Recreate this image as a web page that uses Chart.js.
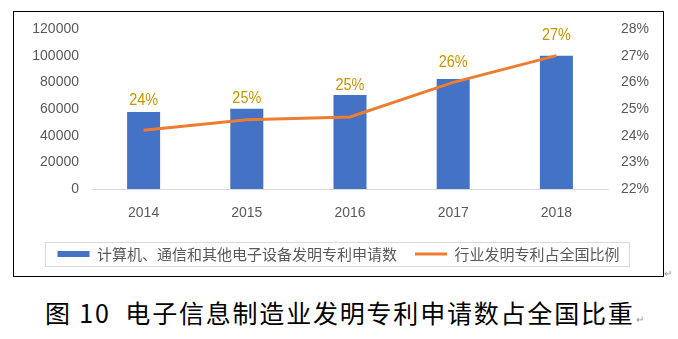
<!DOCTYPE html>
<html lang="zh">
<head>
<meta charset="UTF-8" />
<title>电子信息制造业发明专利申请数占全国比重</title>
<script src="https://cdn.jsdelivr.net/npm/chart.js@4.4.1/dist/chart.umd.min.js"></script>
<style>
    body { margin: 0; width: 678px; height: 339px; background: #fff; position: relative; overflow: hidden; font-family: 'Noto Sans CJK SC', sans-serif; }
    #box { position: absolute; left: 13px; top: 11px; width: 649px; height: 264px; border: 1px solid #000; }
    #title { position: absolute; left: 45px; top: 296px; font-size: 25px; line-height: 32px; letter-spacing: 1.8px; color: #000; white-space: pre; }
    .mark { position: absolute; font-size: 10px; color: #999; line-height: 10px; }
</style>
</head>
<body>
<div id="box"><canvas id="myChart" width="649" height="264"></canvas></div>
<div class="mark" style="left:664px;top:268px;">↵</div>
<div id="title">图 10  电子信息制造业发明专利申请数占全国比重</div>
<div class="mark" style="left:636px;top:314px;">↵</div>

<script>
    // data
    var years = ['2014', '2015', '2016', '2017', '2018'];
    var patents = [57800, 60200, 70500, 82500, 100000];
    var shares = [24.2, 24.6, 24.7, 26.0, 27.0];
    var shareLabels = ['24%', '25%', '25%', '26%', '27%'];

    Chart.defaults.font.family = "'Liberation Sans', 'Noto Sans CJK SC', sans-serif";
    Chart.defaults.color = '#595959';

    // labels above bars (hand placed in the original, so each has its own lift)
    var labelLift = [7, 6, 5, 12, 16];
    var barLabels = {
        id: 'barLabels',
        afterDatasetsDraw: function (chart) {
            var ctx = chart.ctx;
            var meta = chart.getDatasetMeta(1);
            meta.data.forEach(function (bar, i) {
                ctx.save();
                ctx.translate(bar.x, bar.y - labelLift[i]);
                ctx.scale(0.85, 1); // the original uses a narrow face
                ctx.font = "17px 'Liberation Sans', sans-serif";
                ctx.fillStyle = '#C49500';
                ctx.textAlign = 'center';
                ctx.textBaseline = 'alphabetic';
                ctx.fillText(shareLabels[i], 0, 0);
                ctx.restore();
            });
        }
    };

    // frame around the legend
    var legendFrame = {
        id: 'legendFrame',
        afterDraw: function (chart) {
            var boxes = chart.legend.legendHitBoxes;
            if (!boxes || !boxes.length) return;
            var minX = 9999, maxX = 0, cy = boxes[0].top + boxes[0].height / 2;
            boxes.forEach(function (b) {
                minX = Math.min(minX, b.left);
                maxX = Math.max(maxX, b.left + b.width);
            });
            var ctx = chart.ctx;
            ctx.save();
            ctx.strokeStyle = '#D9D9D9';
            ctx.lineWidth = 1;
            ctx.strokeRect(Math.round(minX - 12) + 0.5, Math.round(cy - 12) + 0.5, Math.round(maxX - minX + 22), 24);
            ctx.restore();
        }
    };

    // fixed axis sizes so the plot sits where the original does
    function fitY(width) {
        return function (scale) {
            scale.width = width;
            scale.paddingTop = 0;
            scale.paddingBottom = 0;
        };
    }

    var ctx = document.getElementById('myChart').getContext('2d');
    var myChart = new Chart(ctx, {
        data: {
            labels: years,
            datasets: [
                {
                    type: 'line',
                    label: '行业发明专利占全国比例',
                    data: shares,
                    yAxisID: 'y1',
                    borderColor: '#ED7D31',
                    backgroundColor: '#ED7D31',
                    borderWidth: 3,
                    pointRadius: 0,
                    tension: 0,
                    order: 0
                },
                {
                    type: 'bar',
                    label: '计算机、通信和其他电子设备发明专利申请数',
                    data: patents,
                    yAxisID: 'y',
                    backgroundColor: '#4472C4',
                    categoryPercentage: 1,
                    barPercentage: 0.32,
                    order: 1
                }
            ]
        },
        options: {
            responsive: false,
            animation: false,
            layout: { padding: { top: 17, right: 0, left: 0, bottom: 4.5 } },
            plugins: {
                title: { display: false },
                tooltip: { enabled: false },
                legend: {
                    position: 'bottom',
                    reverse: true,
                    labels: {
                        font: { size: 15, family: "'Noto Sans CJK SC', sans-serif" },
                        color: '#595959',
                        padding: 18,
                        boxWidth: 32,
                        boxHeight: 6,
                        usePointStyle: true,
                        pointStyleWidth: 32,
                        generateLabels: function (chart) {
                            return chart.data.datasets.map(function (ds, i) {
                                return {
                                    text: ds.label,
                                    fillStyle: ds.backgroundColor,
                                    strokeStyle: ds.borderColor || ds.backgroundColor,
                                    lineWidth: ds.type === 'line' ? 3 : 0,
                                    pointStyle: ds.type === 'line' ? 'line' : 'rect',
                                    fontColor: '#595959',
                                    hidden: false,
                                    datasetIndex: i
                                };
                            });
                        }
                    }
                }
            },
            scales: {
                x: {
                    grid: { display: false, drawTicks: false },
                    border: { display: true, color: '#D9D9D9', width: 1 },
                    ticks: { font: { size: 14 }, color: '#595959', padding: 16 },
                    afterFit: function (scale) { scale.height = 39.5; }
                },
                y: {
                    position: 'left',
                    min: 0,
                    max: 120000,
                    grid: { display: false, drawTicks: false },
                    border: { display: false },
                    ticks: {
                        stepSize: 20000,
                        font: { size: 14 },
                        color: '#595959',
                        padding: 13,
                        callback: function (v) { return String(v); }
                    },
                    afterFit: fitY(78)
                },
                y1: {
                    position: 'right',
                    min: 22,
                    max: 28,
                    grid: { display: false, drawTicks: false },
                    border: { display: false },
                    ticks: {
                        stepSize: 1,
                        font: { size: 14 },
                        color: '#595959',
                        padding: 13,
                        callback: function (v) { return v + '%'; }
                    },
                    afterFit: fitY(55)
                }
            }
        },
        plugins: [barLabels, legendFrame]
    });
</script>
</body>
</html>
